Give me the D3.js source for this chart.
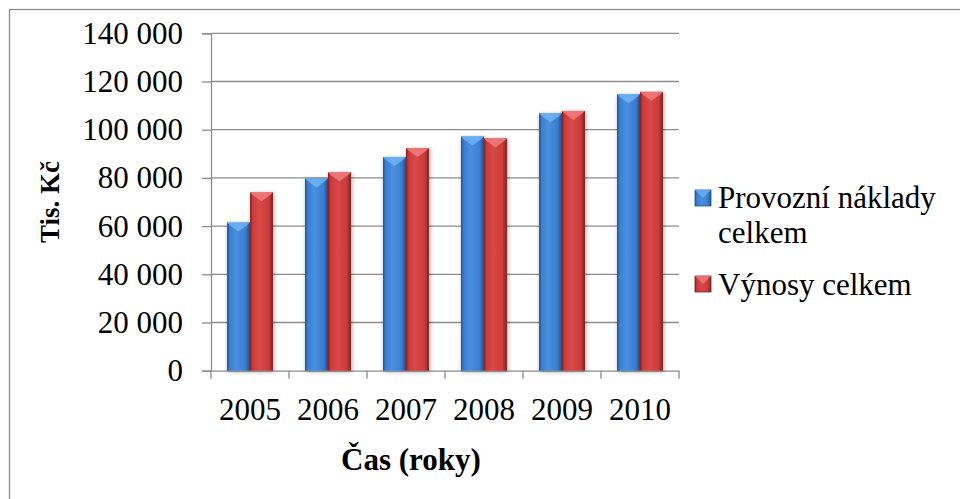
<!DOCTYPE html>
<html><head><meta charset="utf-8">
<script src="https://cdn.jsdelivr.net/npm/d3@7"></script>
<style>body{margin:0;background:#fff;}svg{display:block;} svg text{font-family:"Liberation Serif";fill:#000;}</style>
</head><body>
<script>
const years = ["2005","2006","2007","2008","2009","2010"];
const seriesNames = ["Provozní náklady celkem","Výnosy celkem"];
const naklady = [61500, 79800, 88700, 97200, 106800, 114700];
const vynosy  = [74000, 82300, 92400, 96400, 107800, 115700];
const yTicks = [0,20000,40000,60000,80000,100000,120000,140000];

const W=960,H=499;
const FONT='"Liberation Serif"';
const svg=d3.select("body").append("svg").attr("width",W).attr("height",H);
const defs=svg.append("defs");
const pal=[{id:"b",dark:"#24528f",mid:"#3b7fd0",light:"#4a8fe0",cap:"#6db0f5"},
           {id:"r",dark:"#7d2424",mid:"#cc3b3b",light:"#d84848",cap:"#f07a7a"}];
pal.forEach(p=>{
  const g=defs.append("linearGradient").attr("id","g"+p.id).attr("x1",0).attr("x2",1).attr("y1",0).attr("y2",0);
  g.append("stop").attr("offset","0%").attr("stop-color",p.dark);
  g.append("stop").attr("offset","12%").attr("stop-color",p.mid);
  g.append("stop").attr("offset","40%").attr("stop-color",p.light);
  g.append("stop").attr("offset","80%").attr("stop-color",p.mid);
  g.append("stop").attr("offset","100%").attr("stop-color",p.dark);
});
const f=defs.append("filter").attr("id","sh").attr("x","-30%").attr("y","-10%").attr("width","160%").attr("height","120%");
f.append("feDropShadow").attr("dx",1).attr("dy",1).attr("stdDeviation",2).attr("flood-color","#000").attr("flood-opacity",0.35);

svg.append("rect").attr("x",9.5).attr("y",9.5).attr("width",980).attr("height",520)
  .attr("fill","none").attr("stroke","#8c8c8c").attr("stroke-width",1.3);

const L=211,R=679,T=33.3,B=370.7;
const y=d3.scaleLinear().domain([0,140000]).range([B,T]);
const x0=d3.scaleBand().domain(years).range([L,R]).paddingInner(0.41).paddingOuter(0.205);
const x1=d3.scaleBand().domain([0,1]).range([0,x0.bandwidth()]);
const fmt=v=>d3.format(",")(v).replace(/,/g," ");

svg.append("g").selectAll("line").data(yTicks.filter(d=>d>0)).join("line")
  .attr("x1",L).attr("x2",R).attr("y1",d=>y(d)).attr("y2",d=>y(d))
  .attr("stroke","#8c8c8c").attr("stroke-width",1.3);

const ya=svg.append("g").attr("transform",`translate(${L},0)`)
  .call(d3.axisLeft(y).tickValues(yTicks).tickFormat(fmt).tickSizeOuter(0).tickSize(9).tickPadding(19));
ya.attr("font-family",null).attr("font-size",null);
ya.select(".domain").attr("stroke","#8c8c8c").attr("stroke-width",1.3);
ya.selectAll(".tick line").attr("stroke","#8c8c8c").attr("stroke-width",1.3);
ya.selectAll("text").style("font-family",FONT).style("font-size","31px").attr("fill","#000");

const xa=svg.append("g").attr("transform",`translate(0,${B})`)
  .call(d3.axisBottom(x0).tickSize(0).tickSizeOuter(0).tickPadding(27));
xa.attr("font-family",null).attr("font-size",null);
xa.select(".domain").attr("stroke","#8c8c8c").attr("stroke-width",1.3);
xa.selectAll("text").style("font-family",FONT).style("font-size","31px").attr("fill","#000");
const edges=years.map(d=>x0(d)-x0.step()*0.205).concat([R]);
svg.append("g").selectAll("line").data(edges).join("line")
  .attr("x1",d=>d).attr("x2",d=>d).attr("y1",B).attr("y2",B+8)
  .attr("stroke","#8c8c8c").attr("stroke-width",1.3);

const data=[naklady,vynosy];
data.forEach((vals,si)=>{
  const p=pal[si];
  const g=svg.append("g");
  years.forEach((yr,i)=>{
    const bx=x0(yr)+x1(si), bw=x1.bandwidth(), by=y(vals[i]), bh=B-by;
    g.append("rect").attr("x",bx).attr("y",by).attr("width",bw).attr("height",bh)
      .attr("fill","url(#g"+p.id+")").attr("filter","url(#sh)");
    const c=Math.min(bw/2,9);
    g.append("polygon").attr("points",`${bx},${by} ${bx+bw},${by} ${bx+bw-c*0.3},${by+c*0.3} ${bx+bw/2},${by+c} ${bx+c*0.3},${by+c*0.3}`)
      .attr("fill",p.cap).attr("opacity",0.9);
  });
});

svg.append("text").attr("transform",`translate(59,${(T+B)/2}) rotate(-90)`).attr("text-anchor","middle")
  .style("font-family",FONT).style("font-weight","bold").style("font-size","27px")
  .text("Tis. Kč");
svg.append("text").attr("x",411).attr("y",470).attr("text-anchor","middle")
  .style("font-family",FONT).style("font-weight","bold").style("font-size","31px")
  .text("Čas (roky)");

const leg=[{lines:["Provozní náklady","celkem"],y:208,sq:190},{lines:["Výnosy celkem"],y:295,sq:276}];
leg.forEach((l,i)=>{
  const p=pal[i];
  svg.append("rect").attr("x",695).attr("y",l.sq).attr("width",16).attr("height",16)
    .attr("fill","url(#g"+p.id+")").attr("stroke",p.dark).attr("stroke-width",0.8);
  svg.append("polygon").attr("points",`695,${l.sq} 711,${l.sq} 703,${l.sq+8}`).attr("fill",p.cap).attr("opacity",0.8);
  const t=svg.append("text").attr("x",718).attr("y",l.y)
    .style("font-family",FONT).style("font-size","31px").attr("fill","#000");
  l.lines.forEach((s,j)=>t.append("tspan").attr("x",718).attr("dy",j?35:0).text(s));
});
</script>
</body></html>
